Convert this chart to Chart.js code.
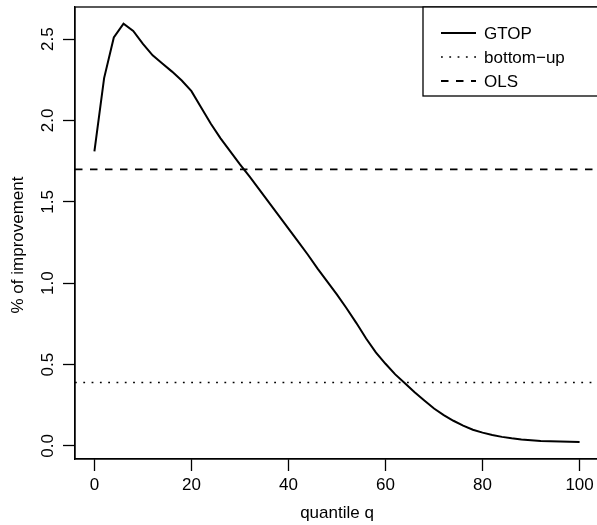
<!DOCTYPE html>
<html>
<head>
<meta charset="utf-8">
<script src="https://cdn.jsdelivr.net/npm/chart.js@4.4.1/dist/chart.umd.min.js"></script>
<style>
html, body { margin: 0; padding: 0; background: #fff; overflow: hidden; }
</style>
</head>
<body>
<canvas id="chart" width="600" height="525"></canvas>
<script>
// data
const quantiles = [0, 2, 4, 6, 8, 10, 12, 14, 16, 18, 20, 22, 24, 26, 28, 30, 32, 34, 36, 38, 40,
    42, 44, 46, 48, 50, 52, 54, 56, 58, 60, 62, 64, 66, 68, 70, 72, 74, 76, 78, 80,
    82, 84, 86, 88, 90, 92, 94, 96, 98, 100];
const gtop = [1.81, 2.26, 2.51, 2.594, 2.55, 2.47, 2.40, 2.35, 2.30, 2.245, 2.18, 2.08, 1.98,
    1.89, 1.81, 1.73, 1.655, 1.575, 1.495, 1.415, 1.335, 1.255, 1.175, 1.09, 1.01, 0.93,
    0.845, 0.755, 0.66, 0.575, 0.505, 0.44, 0.385, 0.33, 0.28, 0.23, 0.19, 0.155, 0.125,
    0.10, 0.082, 0.068, 0.056, 0.047, 0.040, 0.035, 0.031, 0.029, 0.027, 0.026, 0.025];
const bottomUp = 0.39;
const ols = 1.70;

const xTicks = [0, 20, 40, 60, 80, 100];
const yTicks = [0, 0.5, 1, 1.5, 2, 2.5];
const yTickLabels = ['0.0', '0.5', '1.0', '1.5', '2.0', '2.5'];
const xRange = [-4, 104];
const yRange = [-0.08, 2.697];
const yTitle = '% of improvement';

const FONT = "'Liberation Sans', Arial, Helvetica, sans-serif";
const SIZE = 17;
const INK = '#000';

// R style box, rotated y labels and legend
const rStyle = {
    id: 'rStyle',
    afterDraw(chart) {
        const ctx = chart.ctx;
        const a = chart.chartArea;
        ctx.save();
        ctx.strokeStyle = INK;
        ctx.lineWidth = 1.3;
        ctx.strokeRect(a.left, a.top, a.right - a.left, a.bottom - a.top);

        // y tick labels and title, reading upwards
        const ys = chart.scales.y;
        ctx.fillStyle = INK;
        ctx.font = SIZE + 'px ' + FONT;
        ctx.textAlign = 'center';
        ctx.textBaseline = 'alphabetic';
        yTicks.forEach((v, i) => {
            ctx.save();
            ctx.translate(53, ys.getPixelForValue(v));
            ctx.rotate(-Math.PI / 2);
            ctx.fillText(yTickLabels[i], 0, 0);
            ctx.restore();
        });
        ctx.save();
        ctx.translate(23, (a.top + a.bottom) / 2 + 12);
        ctx.rotate(-Math.PI / 2);
        ctx.fillText(yTitle, 0, 0);
        ctx.restore();

        // legend
        const lx = a.right - 176;
        const ly = a.top;
        ctx.fillStyle = '#fff';
        ctx.fillRect(lx, ly, a.right - lx, 89);
        ctx.strokeRect(lx, ly, a.right - lx, 89);
        chart.data.datasets.forEach((ds, i) => {
            const y = ly + 26 + i * 24;
            ctx.beginPath();
            ctx.setLineDash(ds.borderDash || []);
            ctx.lineWidth = ds.borderWidth;
            ctx.moveTo(lx + 18, y);
            ctx.lineTo(lx + 53, y);
            ctx.stroke();
            ctx.setLineDash([]);
            ctx.fillStyle = INK;
            ctx.textAlign = 'left';
            ctx.textBaseline = 'middle';
            ctx.fillText(ds.label, lx + 61, y + 1);
        });
        ctx.restore();
    }
};

const config = {
    type: 'line',
    data: {
        datasets: [
            {
                label: 'GTOP',
                data: quantiles.map((q, i) => ({ x: q, y: gtop[i] })),
                borderColor: INK,
                borderWidth: 2,
                pointRadius: 0,
                tension: 0
            },
            {
                label: 'bottom\u2212up',
                data: [{ x: xRange[0], y: bottomUp }, { x: xRange[1], y: bottomUp }],
                borderColor: INK,
                borderWidth: 1.6,
                borderDash: [1.8, 6.5],
                pointRadius: 0
            },
            {
                label: 'OLS',
                data: [{ x: xRange[0], y: ols }, { x: xRange[1], y: ols }],
                borderColor: INK,
                borderWidth: 1.8,
                borderDash: [7.5, 7.5],
                pointRadius: 0
            }
        ]
    },
    options: {
        responsive: false,
        animation: false,
        layout: { padding: { top: 7, right: 1, left: 0, bottom: 0 } },
        plugins: { legend: { display: false }, tooltip: { enabled: false } },
        scales: {
            x: {
                type: 'linear',
                min: xRange[0],
                max: xRange[1],
                afterBuildTicks: s => { s.ticks = xTicks.map(v => ({ value: v })); },
                afterFit: s => { s.height = 66; s.paddingLeft = 0; s.paddingRight = 0; },
                grid: { drawOnChartArea: false, drawTicks: true, tickLength: 12, tickWidth: 1.3, tickColor: INK },
                border: { display: true, color: INK, width: 1.3 },
                ticks: { color: INK, font: { family: FONT, size: SIZE }, padding: 4, maxRotation: 0, autoSkip: false },
                title: { display: true, text: 'quantile q', color: INK, font: { family: FONT, size: SIZE }, padding: { top: 0, bottom: 1 } }
            },
            y: {
                type: 'linear',
                min: yRange[0],
                max: yRange[1],
                afterBuildTicks: s => { s.ticks = yTicks.map(v => ({ value: v })); },
                afterFit: s => { s.width = 75; s.paddingTop = 0; s.paddingBottom = 0; },
                grid: { drawOnChartArea: false, drawTicks: true, tickLength: 12, tickWidth: 1.3, tickColor: INK },
                border: { display: true, color: INK, width: 1.3 },
                ticks: { display: false },
                title: { display: false }
            }
        }
    },
    plugins: [rStyle]
};

const chart = new Chart(document.getElementById('chart'), config);
</script>
</body>
</html>
